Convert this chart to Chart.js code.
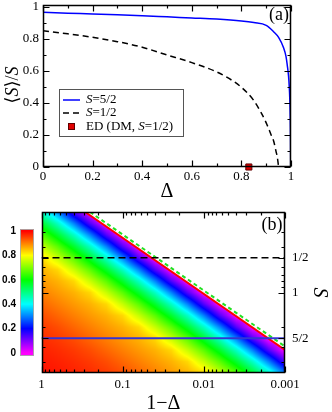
<!DOCTYPE html>
<html><head><meta charset="utf-8">
<script src="https://cdn.jsdelivr.net/npm/chart.js@4.4.1/dist/chart.umd.min.js"></script>
<style>
html,body{margin:0;padding:0;background:#fff;width:332px;height:412px;overflow:hidden}
canvas{position:absolute;left:0;display:block}
#ca{top:0}
#cb{top:206px}
#cc{top:222px}
</style></head><body>
<canvas id="ca" width="332" height="206"></canvas>
<canvas id="cb" width="332" height="206"></canvas>
<canvas id="cc" width="40" height="142"></canvas>
<script>
// ---------- Panel (a) data ----------
const deltaS52 = [0,0.1,0.2,0.3,0.4,0.5,0.6,0.7,0.8,0.85,0.9,0.93,0.95,0.97,0.98,0.985,0.99,0.993,0.995,0.997,0.998,0.9988];
const magS52   = [0.966,0.961,0.956,0.951,0.945,0.938,0.931,0.924,0.912,0.902,0.885,0.845,0.81,0.745,0.69,0.635,0.57,0.50,0.43,0.30,0.18,0];
const deltaS12 = [0,0.1,0.2,0.3,0.4,0.5,0.6,0.7,0.75,0.8,0.85,0.88,0.9,0.92,0.93,0.94,0.945,0.95];
const magS12   = [0.851,0.832,0.81,0.783,0.748,0.70,0.652,0.594,0.553,0.498,0.415,0.338,0.276,0.20,0.162,0.095,0.06,0];
const edDelta  = [0.83];
const edMag    = [0];
const xTicksA = [0,0.2,0.4,0.6,0.8,1];
const xTickLabelsA = ['0','0.2','0.4','0.6','0.8','1'];
const yTicksA = [0,0.2,0.4,0.6,0.8,1];
const yTickLabelsA = ['0','0.2','0.4','0.6','0.8','1'];
const minorA = [0.1,0.3,0.5,0.7,0.9];

// ---------- Panel (b) data ----------
const gridX = [1,0.631,0.398,0.251,0.158,0.1,0.0631,0.0398,0.0251,0.0158,0.01,0.00631,0.00398,0.00251,0.00158,0.001]; // 1-Δ
const gridS = [0.2,0.251,0.316,0.398,0.501,0.631,0.794,1,1.259,1.585,1.995,2.512,3.162,3.981,5.012]; // S
const heat = [
 [0.445,0.30,0.135,null,null,null,null,null,null,null,null,null,null,null,null,null],
 [0.565,0.445,0.30,0.135,null,null,null,null,null,null,null,null,null,null,null,null],
 [0.67,0.565,0.445,0.30,0.135,null,null,null,null,null,null,null,null,null,null,null],
 [0.755,0.67,0.565,0.445,0.30,0.135,null,null,null,null,null,null,null,null,null,null],
 [0.83,0.755,0.67,0.565,0.445,0.30,0.135,null,null,null,null,null,null,null,null,null],
 [0.86,0.83,0.755,0.67,0.565,0.445,0.30,0.135,null,null,null,null,null,null,null,null],
 [0.88,0.86,0.83,0.755,0.67,0.565,0.445,0.30,0.135,null,null,null,null,null,null,null],
 [0.90,0.88,0.86,0.83,0.755,0.67,0.565,0.445,0.30,0.135,null,null,null,null,null,null],
 [0.92,0.90,0.88,0.86,0.83,0.755,0.67,0.565,0.445,0.30,0.135,null,null,null,null,null],
 [0.94,0.92,0.90,0.88,0.86,0.83,0.755,0.67,0.565,0.445,0.30,0.135,null,null,null,null],
 [0.955,0.94,0.92,0.90,0.88,0.86,0.83,0.755,0.67,0.565,0.445,0.30,0.135,null,null,null],
 [0.966,0.955,0.94,0.92,0.90,0.88,0.86,0.83,0.755,0.67,0.565,0.445,0.30,0.135,null,null],
 [0.975,0.966,0.955,0.94,0.92,0.90,0.88,0.86,0.83,0.755,0.67,0.565,0.445,0.30,0.135,null],
 [0.982,0.975,0.966,0.955,0.94,0.92,0.90,0.88,0.86,0.83,0.755,0.67,0.565,0.445,0.30,0.135],
 [0.988,0.982,0.975,0.966,0.955,0.94,0.92,0.90,0.88,0.86,0.83,0.755,0.67,0.565,0.445,0.30]
];
const boundaryX = [0.29,0.001];   const boundaryS = [0.2,3.16];
const greenX    = [0.253,0.001];  const greenS    = [0.2,2.94];
const lineX     = [1,0.001];
const halfS     = [0.5,0.5];
const fiveHalfS = [2.5,2.5];
const xTicksB = [1,0.1,0.01,0.001];
const xTickLabelsB = ['1','0.1','0.01','0.001'];
const xMinorB = [0.9,0.8,0.7,0.6,0.5,0.4,0.3,0.2,0.09,0.08,0.07,0.06,0.05,0.04,0.03,0.02,0.009,0.008,0.007,0.006,0.005,0.004,0.003,0.002];
const sTicksB = [0.5,1,2.5];
const sTickLabelsB = ['1/2','1','5/2'];
const sMinorB = [0.3,0.4,0.6,0.7,0.8,0.9,2,3,4];
const cbTicks = [0,0.2,0.4,0.6,0.8,1];
const cbTickLabels = ['0','0.2','0.4','0.6','0.8','1'];

// ---------- styles ----------
const serif = '"Liberation Serif","Times New Roman","DejaVu Serif",serif';
const sans = '"Liberation Sans",Arial,sans-serif';
const frameColor = '#000000';
const cmapStops = [0,0.2,0.4,0.6,0.8,1];
const cmapRGB = [[255,0,255],[0,0,255],[0,255,255],[0,255,0],[255,255,0],[255,0,0]];

function cmap(v){
  v = Math.max(0, Math.min(1, v));
  for (let i=0;i<cmapStops.length-1;i++){
    if (v <= cmapStops[i+1]) {
      const t=(v-cmapStops[i])/(cmapStops[i+1]-cmapStops[i]);
      const a=cmapRGB[i], b=cmapRGB[i+1];
      return [a[0]+(b[0]-a[0])*t, a[1]+(b[1]-a[1])*t, a[2]+(b[2]-a[2])*t];
    }
  }
  return cmapRGB[cmapRGB.length-1];
}
function fracIndex(arr, v){
  const lv=Math.log(v), n=arr.length;
  for (let i=0;i<n-1;i++){
    const l0=Math.log(arr[i]), l1=Math.log(arr[i+1]);
    if ((lv-l0)*(lv-l1)<=0) return i+(lv-l0)/(l1-l0);
  }
  return Math.abs(lv-Math.log(arr[0]))<Math.abs(lv-Math.log(arr[n-1]))?0:n-1;
}
function pts(xs, ys){ return xs.map((x,i)=>({x:x, y:ys[i]})); }
function noPad(s){ s.paddingTop=0; s.paddingBottom=0; s.paddingLeft=0; s.paddingRight=0; }

function drawRich(ctx, parts, x, y, size, align){
  let w=0;
  parts.forEach(p=>{ ctx.font=(p.i?'italic ':'')+size+'px '+serif; w+=ctx.measureText(p.t).width; });
  let cx = align==='center' ? x-w/2 : x;
  ctx.textBaseline='middle'; ctx.textAlign='left';
  parts.forEach(p=>{ ctx.font=(p.i?'italic ':'')+size+'px '+serif; ctx.fillText(p.t,cx,y); cx+=ctx.measureText(p.t).width; });
}

function drawFrame(chart, xs, ys, xMaj, xMin, yMaj, yMin, maj, mn){
  const ctx = chart.ctx, a = chart.chartArea;
  const L=Math.round(a.left)+0.5, R=Math.round(a.right)-0.5, T=Math.round(a.top)+0.5, B=Math.round(a.bottom)-0.5;
  ctx.save();
  ctx.setLineDash([]);
  ctx.strokeStyle=frameColor; ctx.lineWidth=1.2;
  ctx.beginPath();
  for (const v of xMaj.concat(xMin)) {
    const len = xMaj.indexOf(v)>=0 ? maj : mn;
    const p = Math.round(xs.getPixelForValue(v))+0.5;
    ctx.moveTo(p,B); ctx.lineTo(p,B-len); ctx.moveTo(p,T); ctx.lineTo(p,T+len);
  }
  for (const v of yMaj.concat(yMin)) {
    const len = yMaj.indexOf(v)>=0 ? maj : mn;
    const p = Math.round(ys.getPixelForValue(v))+0.5;
    ctx.moveTo(L,p); ctx.lineTo(L+len,p); ctx.moveTo(R,p); ctx.lineTo(R-len,p);
  }
  ctx.stroke();
  ctx.lineWidth=1.5;
  ctx.strokeRect(L, T, R-L, B-T);
  ctx.restore();
}

// ---------- Chart (a) ----------
const pluginA = {
  id:'panelA',
  afterDraw(chart){
    const ctx = chart.ctx;
    drawFrame(chart, chart.scales.x, chart.scales.y, xTicksA, minorA, yTicksA, minorA, 6, 3);
    ctx.save();
    ctx.fillStyle='#000';
    ctx.save(); ctx.translate(13,85); ctx.rotate(-Math.PI/2);
    drawRich(ctx,[{t:'\u27E8'},{t:'S',i:true},{t:'\u27E9/'},{t:'S',i:true}],0,0,18,'center');
    ctx.restore();
    ctx.font='18px '+serif; ctx.textAlign='center'; ctx.textBaseline='middle';
    ctx.fillText('(a)',279,15);
    ctx.fillStyle='#fff'; ctx.fillRect(59.5,89.5,124,47);
    ctx.strokeStyle='#555'; ctx.lineWidth=1; ctx.setLineDash([]); ctx.strokeRect(59.5,89.5,124,47);
    const ds = chart.data.datasets;
    ctx.lineWidth=1.5;
    ctx.strokeStyle=ds[0].borderColor; ctx.beginPath(); ctx.moveTo(63,100); ctx.lineTo(80,100); ctx.stroke();
    ctx.strokeStyle=ds[1].borderColor; ctx.setLineDash([6,4]); ctx.beginPath(); ctx.moveTo(63,113); ctx.lineTo(80,113); ctx.stroke(); ctx.setLineDash([]);
    ctx.fillStyle=ds[2].backgroundColor; ctx.fillRect(68.5,123.5,6,6);
    ctx.strokeStyle=ds[2].borderColor; ctx.lineWidth=1; ctx.strokeRect(68.5,123.5,6,6);
    ctx.fillStyle='#000';
    drawRich(ctx,[{t:'S',i:true},{t:'=5/2'}],86,100,13,'left');
    drawRich(ctx,[{t:'S',i:true},{t:'=1/2'}],86,113,13,'left');
    drawRich(ctx,[{t:'ED (DM, '},{t:'S',i:true},{t:'=1/2)'}],86,126.5,13,'left');
    ctx.restore();
  }
};

new Chart(document.getElementById('ca'), {
  type:'scatter',
  data:{datasets:[
    {label:'S=5/2', data:pts(deltaS52,magS52), showLine:true, borderColor:'#0000ff', borderWidth:1.5, pointRadius:0, cubicInterpolationMode:'monotone'},
    {label:'S=1/2', data:pts(deltaS12,magS12), showLine:true, borderColor:'#000000', borderWidth:1.5, borderDash:[6,4], pointRadius:0, cubicInterpolationMode:'monotone'},
    {label:'ED (DM, S=1/2)', data:pts(edDelta,edMag), showLine:false, pointStyle:'rect', pointRadius:4.3, backgroundColor:'#e00000', borderColor:'#600000', borderWidth:1, clip:false}
  ]},
  options:{
    responsive:false, animation:false, events:[],
    layout:{padding:{top:3,right:41,left:0,bottom:0}},
    plugins:{legend:{display:false}, tooltip:{enabled:false}},
    scales:{
      x:{type:'linear', min:0, max:1,
         afterBuildTicks:s=>{s.ticks=xTicksA.map(v=>({value:v}));},
         ticks:{callback:(v,i)=>xTickLabelsA[i], font:{family:serif,size:13}, color:'#000', padding:2, autoSkip:false, maxRotation:0},
         grid:{display:false, drawTicks:false}, border:{display:false},
         title:{display:true, text:'Δ', color:'#000', font:{family:serif,size:20,lineHeight:1}, padding:{top:0,bottom:4}},
         afterFit:s=>{s.height=39; noPad(s);}},
      y:{type:'linear', min:0, max:1.01,
         afterBuildTicks:s=>{s.ticks=yTicksA.map(v=>({value:v}));},
         ticks:{callback:(v,i)=>yTickLabelsA[i], font:{family:serif,size:13}, color:'#000', padding:4, autoSkip:false},
         grid:{display:false, drawTicks:false}, border:{display:false},
         afterFit:s=>{s.width=43; noPad(s);}}
    }
  },
  plugins:[pluginA]
});

// ---------- Chart (b) ----------
const heatPlugin = {
  id:'heat',
  beforeDatasetsDraw(chart){
    const {ctx, chartArea:a, scales} = chart;
    const xs=scales.x, ys=scales.y;
    const L=Math.round(a.left), T=Math.round(a.top);
    const w=Math.round(a.right)-L, h=Math.round(a.bottom)-T;
    const off=document.createElement('canvas'); off.width=w; off.height=h;
    const octx=off.getContext('2d'); const img=octx.createImageData(w,h);
    const nr=gridS.length, nc=gridX.length;
    const cv=(r,c)=>{const v=heat[r][c]; return v==null?0:v;};
    const cols=[];
    for(let px=0;px<w;px++) cols.push(fracIndex(gridX, xs.getValueForPixel(L+px+0.5)));
    for(let py=0;py<h;py++){
      const r=fracIndex(gridS, ys.getValueForPixel(T+py+0.5));
      const r0=Math.min(Math.floor(r),nr-1), r1=Math.min(r0+1,nr-1), fr=r-r0;
      for(let px=0;px<w;px++){
        const c=cols[px];
        const c0=Math.min(Math.floor(c),nc-1), c1=Math.min(c0+1,nc-1), fc=c-c0;
        const v=(cv(r0,c0)*(1-fc)+cv(r0,c1)*fc)*(1-fr)+(cv(r1,c0)*(1-fc)+cv(r1,c1)*fc)*fr;
        const col=cmap(v); const k=(py*w+px)*4;
        img.data[k]=col[0]; img.data[k+1]=col[1]; img.data[k+2]=col[2]; img.data[k+3]=255;
      }
    }
    octx.putImageData(img,0,0);
    ctx.drawImage(off,L,T);
  },
  afterDraw(chart){
    const ctx = chart.ctx;
    drawFrame(chart, chart.scales.x, chart.scales.y, xTicksB, xMinorB, sTicksB, sMinorB, 6, 3);
    ctx.save(); ctx.fillStyle='#000';
    ctx.font='18px '+serif; ctx.textAlign='center'; ctx.textBaseline='middle';
    ctx.fillText('(b)',272,19);
    ctx.restore();
  }
};

new Chart(document.getElementById('cb'), {
  type:'scatter',
  data:{datasets:[
    {label:'S=5/2', data:pts(lineX,fiveHalfS), showLine:true, borderColor:'#3434d4', borderWidth:2, pointRadius:0},
    {label:'S=1/2', data:pts(lineX,halfS), showLine:true, borderColor:'#000', borderWidth:1.5, borderDash:[7,4], pointRadius:0},
    {label:'green', data:pts(greenX,greenS), showLine:true, borderColor:'#22e022', borderWidth:2, borderDash:[4,3], pointRadius:0},
    {label:'boundary', data:pts(boundaryX,boundaryS), showLine:true, borderColor:'#ff0000', borderWidth:2, pointRadius:0, fill:{value:0.2}, backgroundColor:'#ffffff'}
  ]},
  options:{
    responsive:false, animation:false, events:[],
    layout:{padding:{top:6,right:0,left:0,bottom:0}},
    plugins:{legend:{display:false}, tooltip:{enabled:false}},
    scales:{
      x:{type:'logarithmic', reverse:true, min:0.001, max:1,
         afterBuildTicks:s=>{s.ticks=xTicksB.map(v=>({value:v}));},
         ticks:{callback:(v,i)=>xTickLabelsB[i], font:{family:serif,size:13}, color:'#000', padding:4, autoSkip:false, maxRotation:0},
         grid:{display:false, drawTicks:false}, border:{display:false},
         title:{display:true, text:'1\u2212Δ', color:'#000', font:{family:serif,size:20,lineHeight:0.8}, padding:{top:0,bottom:0}},
         afterFit:s=>{s.height=39; noPad(s);}},
      y:{type:'logarithmic', reverse:true, min:0.2, max:5, position:'left',
         ticks:{display:false}, grid:{display:false, drawTicks:false}, border:{display:false},
         afterFit:s=>{s.width=41.5; noPad(s);}},
      y2:{type:'logarithmic', reverse:true, min:0.2, max:5, position:'right',
         afterBuildTicks:s=>{s.ticks=sTicksB.map(v=>({value:v}));},
         ticks:{callback:(v,i)=>sTickLabelsB[i], font:{family:serif,size:13}, color:'#000', padding:7, autoSkip:false},
         grid:{display:false, drawTicks:false}, border:{display:false},
         title:{display:true, text:'S', color:'#000', font:{family:serif,size:20,style:'italic',lineHeight:1}, padding:{top:3,bottom:0}},
         afterFit:s=>{s.width=47; noPad(s);}}
    }
  },
  plugins:[heatPlugin]
});

// ---------- Colorbar ----------
const cbPlugin = {
  id:'cbar',
  beforeDatasetsDraw(chart){
    const {ctx, chartArea:a, scales:{y}} = chart;
    const T=Math.round(a.top), B=Math.round(a.bottom), L=Math.round(a.left), R=Math.round(a.right);
    for(let py=T;py<B;py++){
      const c=cmap(y.getValueForPixel(py+0.5));
      ctx.fillStyle='rgb('+Math.round(c[0])+','+Math.round(c[1])+','+Math.round(c[2])+')';
      ctx.fillRect(L,py,R-L,1);
    }
    ctx.strokeStyle='rgba(170,170,170,0.9)'; ctx.lineWidth=1;
    ctx.strokeRect(L+0.5,T+0.5,R-L-1,B-T-1);
  }
};
new Chart(document.getElementById('cc'), {
  type:'scatter',
  data:{datasets:[]},
  options:{
    responsive:false, animation:false, events:[],
    layout:{padding:{top:7.3,right:6,left:0,bottom:8}},
    plugins:{legend:{display:false}, tooltip:{enabled:false}},
    scales:{
      x:{type:'linear', display:false, min:0, max:1},
      y:{type:'linear', min:-0.025, max:1.014,
         afterBuildTicks:s=>{s.ticks=cbTicks.map(v=>({value:v}));},
         ticks:{callback:(v,i)=>cbTickLabels[i], font:{family:sans,size:10,weight:'bold'}, color:'#000', padding:4, autoSkip:false},
         grid:{display:false, drawTicks:false}, border:{display:false},
         afterFit:s=>{s.width=20; noPad(s);}}
    }
  },
  plugins:[cbPlugin]
});
</script>
</body></html>
